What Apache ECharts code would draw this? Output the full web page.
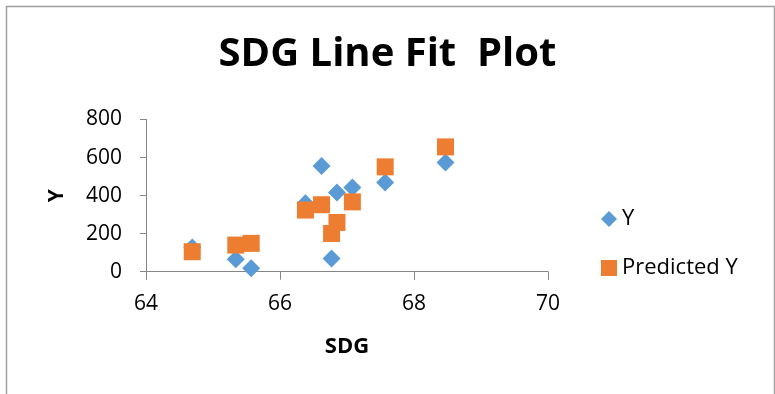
<!DOCTYPE html>
<html>
<head>
<meta charset="utf-8">
<script src="https://cdn.jsdelivr.net/npm/echarts@6/dist/echarts.min.js"></script>
<style>
html,body{margin:0;padding:0;background:#fff;}
#c{width:775px;height:394px;}
</style>
</head>
<body>
<div id="c"></div>
<script>
const sdg = [64.69, 65.34, 65.57, 66.38, 66.62, 66.77, 66.85, 67.08, 67.57, 68.47];
const yActual = [127, 65, 18, 360, 555, 70, 416, 443, 469, 574];
const yPredicted = [105, 140, 149, 324, 352, 201, 259, 367, 551, 656];
const titleText = 'SDG Line Fit  Plot';
const xName = 'SDG';
const yName = 'Y';
const seriesNames = ['Y', 'Predicted Y'];

const FONT = '"Open Sans", "Noto Sans", sans-serif';
const chart = echarts.init(document.getElementById('c'), null, {renderer: 'canvas'});
const pairs = (xs, ys) => xs.map((x, i) => [x, ys[i]]);
chart.setOption({
  animation: false,
  backgroundColor: '#fff',
  title: {
    text: titleText, left: 'center', top: 30,
    textStyle: {fontFamily: FONT, fontWeight: 'bold', fontSize: 40, color: '#000'}
  },
  graphic: [{
    type: 'rect', silent: true,
    shape: {x: 6.5, y: 6.5, width: 768, height: 400},
    style: {fill: 'none', stroke: '#a0a0a0', lineWidth: 1.5}
  }],
  legend: {
    orient: 'vertical', left: 596, top: 203,
    itemWidth: 16, itemHeight: 16, itemGap: 27,
    textStyle: {fontFamily: FONT, fontSize: 22, color: '#000', padding: [0, 0, 0, 0]},
    data: [{name: seriesNames[0], icon: 'diamond'}, {name: seriesNames[1], icon: 'rect'}]
  },
  grid: {left: 146, top: 119.5, width: 402, height: 152.2, containLabel: false},
  xAxis: {
    type: 'value', min: 64, max: 70, interval: 2,
    name: xName, nameLocation: 'middle', nameGap: 64,
    nameTextStyle: {fontFamily: FONT, fontWeight: 'bold', fontSize: 22, color: '#000'},
    axisLine: {show: true, onZero: false, lineStyle: {color: '#868686', width: 1}},
    axisTick: {show: true, length: 8, lineStyle: {color: '#868686'}},
    axisLabel: {fontFamily: FONT, fontSize: 21, color: '#000', margin: 22},
    splitLine: {show: false}
  },
  yAxis: {
    type: 'value', min: 0, max: 800, interval: 200,
    name: yName, nameLocation: 'middle', nameGap: 78, nameRotate: 90,
    nameTextStyle: {fontFamily: FONT, fontWeight: 'bold', fontSize: 21, color: '#000'},
    axisLine: {show: true, lineStyle: {color: '#868686', width: 1}},
    axisTick: {show: true, length: 6, lineStyle: {color: '#868686'}},
    axisLabel: {fontFamily: FONT, fontSize: 21, color: '#000', margin: 24},
    splitLine: {show: false}
  },
  series: [
    {
      name: seriesNames[0], type: 'scatter', symbol: 'diamond', symbolSize: 18,
      itemStyle: {color: '#5B9BD5', opacity: 1},
      data: pairs(sdg, yActual), z: 2
    },
    {
      name: seriesNames[1], type: 'scatter', symbol: 'rect', symbolSize: 17,
      itemStyle: {color: '#ED7D31', opacity: 1},
      data: pairs(sdg, yPredicted), z: 3
    }
  ]
});
</script>
</body>
</html>
